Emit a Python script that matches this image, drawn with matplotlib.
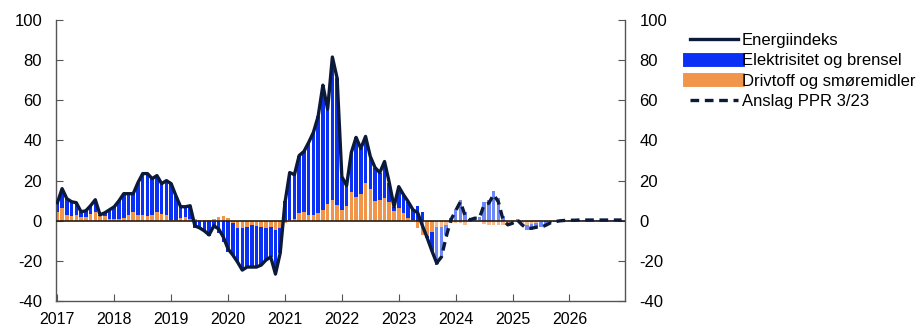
import numpy as np
import matplotlib
matplotlib.use('Agg')
from matplotlib import pyplot as plt
from matplotlib.lines import Line2D

plt.rcParams['font.family'] = ['Liberation Sans', 'DejaVu Sans']
plt.rcParams['axes.unicode_minus'] = False

years = ['2017', '2018', '2019', '2020', '2021', '2022', '2023', '2024', '2025', '2026']

# Månedlige verdier jan 2017 - aug 2023 (faktisk) og sep 2023 - des 2026 (anslag)
energi_faktisk = [
    9, 16, 11, 9.5, 9, 4.5, 5, 7.5, 10.5, 3, 4, 5.5,
    7, 10, 13.5, 13.5, 13.5, 19, 23.5, 23.5, 21, 22.5, 18.5, 20,
    18.5, 12.5, 7, 7, 7.5, -2.5, -3.5, -5, -7, -2.5, -4, -8,
    -14, -17, -20.5, -24.5, -23, -23, -23, -22, -19.5, -18, -26.5, -16,
    9, 24, 23, 32.5, 34.5, 39, 44, 52, 67.5, 55.5, 81.5, 71,
    22, 17.5, 34, 41.5, 36, 42, 32, 26.5, 24, 29.5, 19, 7,
    17, 13, 9.5, 5.5, 4, -2.5, -8.5, -15, -21,
]
energi_anslag = [
    -21, -18, -8, 0.5, 5, 9.5, 2.5, 0.5, 1.3, 1.3, 8, 8.8,
    13, 9.5, 0.5, -2, -1.2, 0.5, -2, -3.7, -3.7, -3.2, -3.2, -2.2,
    -1, -0.4, 0, 0.2, 0.3, 0.3, 0.4, 0.4, 0.4, 0.4, 0.4, 0.4,
    0.4, 0.4, 0.4, 0.4,
]

el_faktisk = [
    4.5, 9.5, 8, 7, 6, 2.5, 3, 4, 6, 0.5, 1.5, 4.5,
    6, 9, 12, 10.5, 9, 16, 20.5, 21, 18, 18, 15, 17,
    18, 12, 5.5, 5, 6.5, -3.5, -4, -5.3, -7.5, -3.5, -6, -10.5,
    -15.5, -16, -17, -21, -20, -21, -20.5, -19, -16, -15, -22, -12.5,
    10, 23.5, 22, 28.5, 30, 36, 41.3, 48.2, 62, 47, 71, 63,
    16.5, 10, 19.5, 29.5, 22.5, 23, 16, 16.5, 13.5, 18, 9.5, 2,
    10.5, 9, 8, 5.2, 7.5, 4.5, -1, -9.5,
]
el_anslag = [
    -19, -15.5, -5, 1.5, 6, 10.5, 4.5, 1, 1.5, 1.5, 9.5, 10.5,
    15, 11.5, 2.5, -1, -1.5, 0.5, -0.5, -2.5, -3, -2.5, -2.5, -2,
    -1, -0.5, 0, 0.2, 0.3, 0.3, 0.3, 0.3, 0.3, 0.3, 0.3, 0.3,
    0.3, 0.3, 0.3, 0.3,
]

driv_faktisk = [
    4.5, 6.5, 3, 2.5, 3, 2, 2, 3.5, 4.5, 2.5, 2.5, 1,
    1, 1, 1.5, 3, 4.5, 3, 3, 2.5, 3, 4.5, 3.5, 3,
    0.5, 0.5, 1.5, 2, 1, 1, 0.5, 0.3, 0.5, 1, 2, 2.5,
    1.5, -1, -3.5, -3.5, -3, -2, -2.5, -3, -3.5, -3, -4.5, -3.5,
    -1, 0.5, 1, 4, 4.5, 3, 2.7, 3.8, 5.5, 8.5, 10.5, 8,
    5.5, 7.5, 14.5, 12, 13.5, 19, 16, 10, 10.5, 11.5, 9.5, 5,
    6.5, 4, 1.5, 0.3, -3.5, -7, -7.5, -5.5,
]
driv_anslag = [
    -3.2, -3, -2, -1, -1, -1, -2, -0.5, 0, 0.5, -1.5, -2,
    -2.3, -2.3, -2, -1, 0.5, 0.5, -1.5, -2, -1.5, -1, -0.5, -0.3,
    0, 0, 0, 0, 0.1, 0.1, 0.1, 0.1, 0.1, 0.1, 0.1, 0.1,
    0.1, 0.1, 0.1, 0.1,
]

navy = '#0b1a3a'
blue = '#0a30f5'
blue_light = '#6e88f7'
orange = '#f0954a'
orange_light = '#f6bb8c'


def stacked(ax, x, el, driv, c_el, c_driv):
    el = np.array(el)
    driv = np.array(driv)
    bottom = np.where(np.sign(el) == np.sign(driv), driv, 0)
    ax.bar(x, driv, width=0.75, color=c_driv, zorder=2)
    ax.bar(x, el, bottom=bottom, width=0.75, color=c_el, zorder=2)


fig, ax = plt.subplots(figsize=(9.17, 3.31), dpi=100)
fig.subplots_adjust(left=0.061, right=0.682, top=0.94, bottom=0.09)

n_f = len(el_faktisk)
x_f = np.arange(n_f)
x_a = np.arange(n_f, n_f + len(el_anslag))
stacked(ax, x_f, el_faktisk, driv_faktisk, blue, orange)
stacked(ax, x_a, el_anslag, driv_anslag, blue_light, orange_light)

ax.axhline(0, color='#2a1c10', lw=1.2, zorder=3)

x_e = np.arange(len(energi_faktisk))
ax.plot(x_e, energi_faktisk, color=navy, lw=2.4, zorder=4, solid_joinstyle='round')
x_p = np.arange(len(energi_faktisk) - 1, len(energi_faktisk) - 1 + len(energi_anslag))
ax.plot(x_p, energi_anslag, color=navy, lw=2.4, ls=(0, (2.6, 1.7)), zorder=4)

ax.set_xlim(-0.3, 119.8)
ax.set_ylim(-40, 100)
ax.set_yticks(range(-40, 101, 20))
ax.set_xticks(np.arange(0, 120, 12))
ax.set_xticklabels(years)

for s in ['top']:
    ax.spines[s].set_visible(False)
for s in ['left', 'right', 'bottom']:
    ax.spines[s].set_color('#555555')
    ax.spines[s].set_linewidth(1.0)

ax.tick_params(axis='y', direction='in', length=5, labelsize=12, right=True,
               labelright=True, pad=10, color='#555555')
ax.tick_params(axis='x', direction='in', length=5, labelsize=11.5, pad=8, color='#555555')

handles = [
    Line2D([], [], color=navy, lw=2.4),
    Line2D([], [], color=blue, lw=10),
    Line2D([], [], color=orange, lw=10),
    Line2D([], [], color=navy, lw=2.4, ls=(0, (2.6, 1.7))),
]
labels = ['Energiindeks', 'Elektrisitet og brensel', 'Drivtoff og smøremidler', 'Anslag PPR 3/23']
fig.legend(handles, labels, loc='upper left', bbox_to_anchor=(0.752, 0.90),
           frameon=False, fontsize=12, handlelength=2.9, handletextpad=0.25,
           labelspacing=0.32, borderaxespad=0, borderpad=0)

fig.savefig('out.png', dpi=100)
